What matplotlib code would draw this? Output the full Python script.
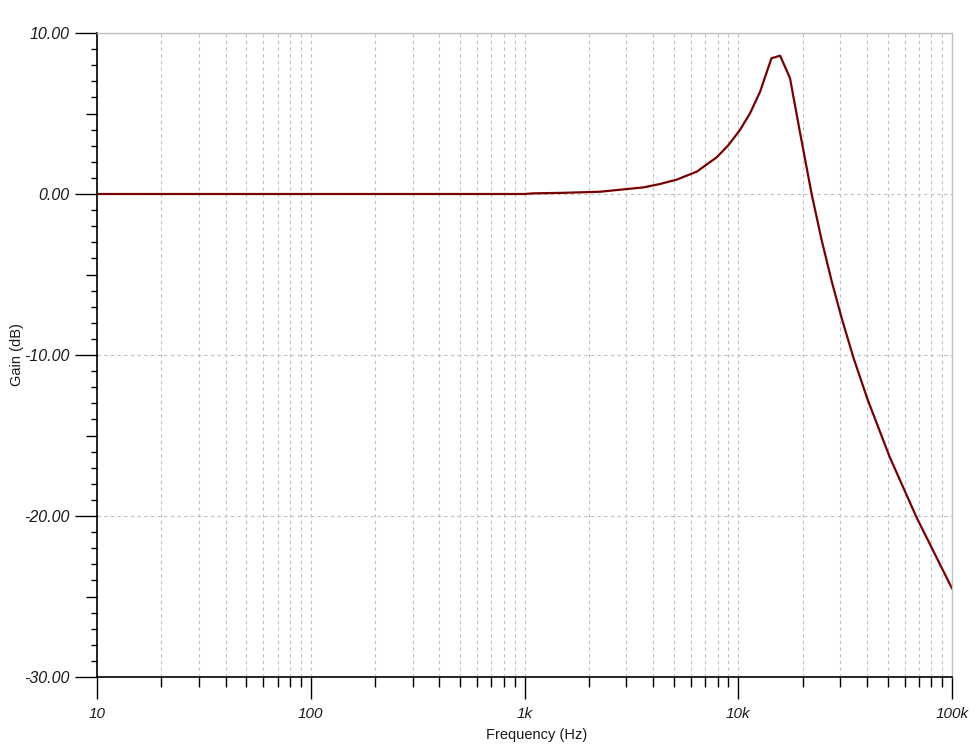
import matplotlib
matplotlib.use("Agg")
import matplotlib.pyplot as plt
from matplotlib.ticker import FixedLocator, NullFormatter

plt.rcParams['font.family'] = ['Liberation Sans', 'DejaVu Sans']

# frequency response
freq_hz = [10, 100, 1000, 1100, 1500, 2250, 3600, 4300, 5150, 6400, 7930,
           9000, 10190, 11350, 12650, 14300, 15700, 17460, 19470, 22060,
           24570, 27360, 30480, 34690, 40330, 51120, 68390, 100000]
gain_db = [0.0, 0.0, 0.0, 0.04, 0.07, 0.14, 0.41, 0.62, 0.89, 1.39, 2.28,
           3.04, 3.98, 5.01, 6.35, 8.43, 8.59, 7.2, 3.79, -0.02,
           -2.88, -5.42, -7.72, -10.22, -12.78, -16.34, -20.11, -24.5]

x_ticks = [10, 100, 1000, 10000, 100000]
x_ticklabels = ["10", "100", "1k", "10k", "100k"]
y_ticks = [-30, -20, -10, 0, 10]
y_ticklabels = ["-30.00", "-20.00", "-10.00", "0.00", "10.00"]
y_mid_ticks = [-25, -15, -5, 5]

x_minor = [m * d for d in (10, 100, 1000, 10000) for m in range(2, 10)]
y_minor = [v for v in range(-30, 11) if v % 5 != 0]

grid_col = "#c0c0c0"

fig = plt.figure(figsize=(9.8, 7.56), dpi=100)
ax = fig.add_axes([97 / 980, 79 / 756, 855 / 980, 644 / 756])

ax.plot(freq_hz, gain_db, color="#780000", lw=1.6)

ax.set_xscale("log")
ax.set_xlim(10, 100000)
ax.set_ylim(-30, 10)

ax.xaxis.set_major_locator(FixedLocator(x_ticks))
ax.set_xticklabels(x_ticklabels)
ax.xaxis.set_minor_locator(FixedLocator(x_minor))
ax.xaxis.set_minor_formatter(NullFormatter())
ax.yaxis.set_major_locator(FixedLocator(y_ticks))
ax.set_yticklabels(y_ticklabels)
ax.yaxis.set_minor_locator(FixedLocator(y_minor))

ax.tick_params(axis="both", which="major", direction="out", length=15.5,
               width=1.0, color="black")
ax.tick_params(axis="x", which="major", labelsize=11, pad=6)
ax.tick_params(axis="y", which="major", labelsize=11.5, pad=4)
ax.tick_params(axis="x", which="minor", direction="out", length=7.2,
               width=1.0, color="black")
ax.tick_params(axis="y", which="minor", direction="out", length=4.3,
               width=1.0, color="black")
for lab in ax.get_xticklabels() + ax.get_yticklabels():
    lab.set_fontstyle("italic")
    lab.set_color("#1a1a1a")

# 5 dB ticks, a bit longer than the 1 dB ones
sec = ax.secondary_yaxis("left")
sec.set_yticks(y_mid_ticks)
sec.set_yticklabels([])
sec.tick_params(axis="y", which="major", direction="out", length=8,
                width=1.0, color="black")
sec.tick_params(axis="y", which="minor", length=0)
sec.spines["left"].set_visible(False)

ax.grid(True, which="major", axis="both", color=grid_col, ls=(0, (3, 3)), lw=0.8)
ax.grid(True, which="minor", axis="x", color=grid_col, ls=(0, (3, 3)), lw=0.8)

for s in ("left", "bottom"):
    ax.spines[s].set_color("black")
    ax.spines[s].set_linewidth(1.2)
for s in ("top", "right"):
    ax.spines[s].set_color(grid_col)
    ax.spines[s].set_linewidth(1.0)

ax.set_xlabel("Frequency (Hz)", fontsize=10.5, color="#1a1a1a")
ax.set_ylabel("Gain (dB)", fontsize=10.5, color="#1a1a1a")
ax.xaxis.set_label_coords((536.5 - 97) / 855, -(728 - 677) / 644)
ax.yaxis.set_label_coords(-(73 / 855), 0.5)

fig.savefig("out.png", dpi=100)
